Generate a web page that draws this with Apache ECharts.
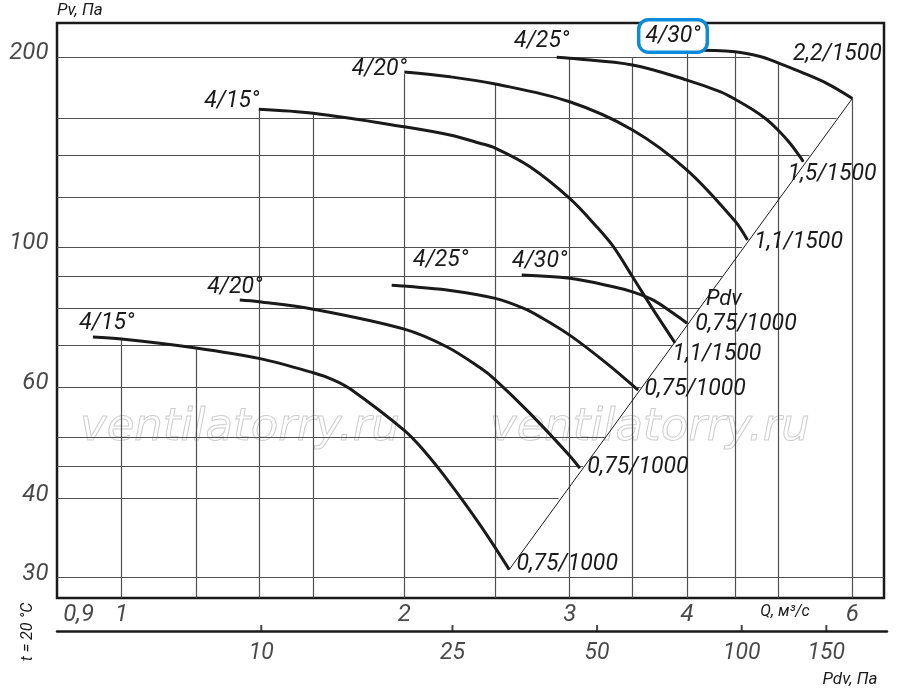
<!DOCTYPE html>
<html>
<head>
<meta charset="utf-8">
<script src="https://cdn.jsdelivr.net/npm/echarts@6/dist/echarts.min.js"></script>
<style>
html,body{margin:0;padding:0;background:#fff;}
#chart{width:900px;height:690px;}
</style>
</head>
<body>
<div id="chart"></div>
<script>
// ---------- axis ranges (log scales) ----------
const qRange = [0.8535, 6.484];     // Q, m3/s
const pvRange = [27.86, 226.4];     // Pv, Pa
const pdvRange = [3.757, 200.6];    // Pdv, Pa (second scale)

// ---------- tick labels ----------
const qTicks = [0.9, 1, 2, 3, 4, 6];
const qTickText = ['0,9', '1', '2', '3', '4', '6'];
const pvTicks = [30, 40, 60, 100, 200];
const pdvTicks = [10, 25, 50, 100, 150];

// ---------- grid lines (clipped by the curve envelope / Pdv line) ----------
const qGrid = [1, 1.2, 1.4, 1.6, 2, 2.5, 3, 3.5, 4, 4.5, 5, 6];
const qGridTop = [71.6, 69.3, 165.3, 162.9, 188, 181.3, 200, 200, 205, 204, 195.8, 172];
const pvGrid = [30, 40, 45, 50, 60, 70, 80, 90, 100, 120, 140, 160, 200];
const pvGridEnd = [6.484, 2.92, 3.10, 3.27, 3.57, 3.86, 4.12, 4.36, 4.58, 5.02, 5.40, 5.77, 4.67];

// ---------- curves ----------
const curveNames = ['4/15°', '4/20°', '4/25°', '4/30°', '4/15°', '4/20°', '4/25°', '4/30°'];
const curveMotors = ['0,75/1000', '0,75/1000', '0,75/1000', '0,75/1000', '1,1/1500', '1,1/1500', '1,5/1500', '2,2/1500'];

const q15_1000 = [0.932, 1.0, 1.2, 1.4, 1.6, 1.68, 1.751, 2.0, 2.1, 2.219, 2.407, 2.587];
const pv15_1000 = [72.1, 71.6, 69.3, 66.7, 63.3, 61.7, 59.7, 51.3, 47.6, 43.0, 36.4, 30.9];

const q20_1000 = [1.336, 1.4, 1.6, 2.0, 2.219, 2.407, 2.5, 2.722, 3.0, 3.076];
const pv20_1000 = [82.5, 82.0, 79.8, 74.2, 69.6, 64.5, 61.7, 54.6, 46.8, 44.7];

const q25_1000 = [1.939, 2.0, 2.22, 2.5, 2.677, 2.79, 3.0, 3.285, 3.549];
const pv25_1000 = [87.1, 86.8, 85.6, 83.0, 80.1, 77.6, 72.6, 65.5, 59.4];

const q30_1000 = [2.667, 3.0, 3.338, 3.5, 3.683, 3.868, 4.0];
const pv30_1000 = [90.4, 89.3, 86.6, 85.0, 82.5, 78.6, 75.8];

const q15_1500 = [1.4, 1.6, 2.0, 2.237, 2.407, 2.5, 2.722, 3.0, 3.205, 3.338, 3.5, 3.683, 3.884];
const pv15_1500 = [165.3, 162.9, 155.1, 150.5, 146.1, 143.5, 134.1, 119.5, 107.8, 100.3, 89.8, 79.6, 70.6];

const q20_1500 = [2.0, 2.237, 2.5, 3.0, 3.5, 4.0, 4.5, 4.64];
const pv20_1500 = [189.4, 186.1, 181.3, 169.9, 153.3, 132.5, 110.0, 102.7];

const q25_1500 = [2.906, 3.0, 3.5, 4.0, 4.337, 4.5, 4.706, 4.863, 5.0, 5.149, 5.277, 5.319];
const pv25_1500 = [199.8, 199.1, 194.3, 183.9, 176.3, 171.5, 164.9, 159.3, 153.3, 146.1, 139.1, 136.6];

const q30_1500 = [4.0, 4.5, 4.785, 5.0, 5.277, 5.634, 6.0];
const pv30_1500 = [205.2, 203.9, 200.4, 195.8, 189.6, 181.7, 172.0];

// dynamic pressure line (Pdv)
const pdvLineQ = [2.587, 6.0];
const pdvLinePv = [30.9, 172.0];

// ---------- build ----------
const curveQ = [q15_1000, q20_1000, q25_1000, q30_1000, q15_1500, q20_1500, q25_1500, q30_1500];
const curvePv = [pv15_1000, pv20_1000, pv25_1000, pv30_1000, pv15_1500, pv20_1500, pv25_1500, pv30_1500];

// label placement (style, pixel offsets from curve start / end)
const startOffsets = [[14,-14],[-5,-13],[49,-25],[18,-14],[-27,-8],[-25,-3],[-15,-16],[-14,-14]];
const endOffsets = [[58,-5],[58,-1],[57,-1],[59,1],[42,11],[51,2],[29,13],[-15,-44]];

const INK = '#1a1a1a';
const FONT = 'Roboto, "Open Sans", "DejaVu Sans", sans-serif';
const baseLabel = {show: true, position: 'inside', color: INK, fontSize: 23, fontStyle: 'italic', fontFamily: FONT};

const series = [];

// grid lines
series.push({
  type: 'lines', coordinateSystem: 'cartesian2d', xAxisIndex: 0, yAxisIndex: 0,
  polyline: false, silent: true, z: 1,
  lineStyle: {color: '#505050', width: 1.2, opacity: 1, curveness: 0},
  data: [].concat(
    qGrid.map((q, i) => ({coords: [[q, pvRange[0]], [q, qGridTop[i]]]})),
    pvGrid.map((p, i) => ({coords: [[qRange[0], p], [pvGridEnd[i], p]]}))
  )
});

// Pdv diagonal
series.push({
  type: 'line', xAxisIndex: 0, yAxisIndex: 0, symbol: 'none', silent: true, z: 2,
  lineStyle: {color: INK, width: 1},
  data: pdvLineQ.map((q, i) => [q, pdvLinePv[i]])
});

// curves
curveQ.forEach((qs, i) => {
  const pvs = curvePv[i];
  const n = qs.length - 1;
  const startLabel = Object.assign({}, baseLabel, {formatter: curveNames[i], offset: startOffsets[i]});
  if (i === 7) {
    Object.assign(startLabel, {borderColor: '#0b8bd9', borderWidth: 3.5, borderRadius: 8,
      padding: [3, 5, 3, 5], backgroundColor: '#fff'});
  }
  series.push({
    type: 'line', xAxisIndex: 0, yAxisIndex: 0, smooth: 0.35, symbol: 'none', z: 3,
    lineStyle: {color: INK, width: 3},
    data: qs.map((q, j) => [q, pvs[j]]),
    markPoint: {
      symbol: 'circle', symbolSize: 1, silent: true, animation: false,
      itemStyle: {color: 'rgba(0,0,0,0)'},
      data: [
        {coord: [qs[0], pvs[0]], label: startLabel},
        {coord: [qs[n], pvs[n]], label: Object.assign({}, baseLabel, {formatter: curveMotors[i], offset: endOffsets[i]})}
      ]
    }
  });
});

// Pv tick labels
series.push({
  type: 'scatter', xAxisIndex: 0, yAxisIndex: 0, symbolSize: 1, silent: true, clip: false,
  itemStyle: {color: 'rgba(0,0,0,0)'},
  label: {show: true, position: 'left', distance: 8, offset: [0, -4], color: INK, fontSize: 24,
    fontStyle: 'italic', fontFamily: FONT, formatter: p => String(p.value[1])},
  data: pvTicks.map(v => [qRange[0], v])
});

// Q tick labels
series.push({
  type: 'scatter', xAxisIndex: 0, yAxisIndex: 0, symbolSize: 1, silent: true, clip: false,
  itemStyle: {color: 'rgba(0,0,0,0)'},
  label: {show: true, position: 'bottom', distance: 4, color: INK, fontSize: 24,
    fontStyle: 'italic', fontFamily: FONT, formatter: p => qTickText[p.dataIndex]},
  data: qTicks.map(v => [v, pvRange[0]])
});

// Pdv scale ticks + labels
series.push({
  type: 'scatter', xAxisIndex: 1, yAxisIndex: 1, symbol: 'rect', symbolSize: [2, 6], symbolOffset: [0, -3],
  silent: true, clip: false, itemStyle: {color: INK},
  label: {show: true, position: 'bottom', distance: 11, color: INK, fontSize: 23,
    fontStyle: 'italic', fontFamily: FONT, formatter: p => String(p.value[0])},
  data: pdvTicks.map(v => [v, 0])
});

const txt = (text, x, y, size, align, extra) => Object.assign({
  type: 'text', x: x, y: y, silent: true, z: 10,
  style: {text: text, fill: INK, font: 'italic ' + size + 'px ' + FONT,
    align: align, textAlign: align, verticalAlign: 'middle', textVerticalAlign: 'middle'}
}, extra || {});

const wm = (x) => ({type: 'text', x: x, y: 428, silent: true, z: 0,
  style: {text: 'ventilatorry.ru', fill: 'rgba(255,255,255,0)', stroke: '#cdcdcd', lineWidth: 1,
    font: 'italic 200 45px "DejaVu Sans", sans-serif', verticalAlign: 'middle', textVerticalAlign: 'middle'}});

const option = {
  animation: false,
  backgroundColor: '#fff',
  grid: [
    {left: 57, right: 16, top: 23, bottom: 92, show: true, borderColor: INK, borderWidth: 2.5, backgroundColor: 'transparent'},
    {left: 57, right: 13, top: 626, height: 5, show: false}
  ],
  xAxis: [
    {type: 'log', logBase: 10, gridIndex: 0, min: qRange[0], max: qRange[1],
      axisLine: {show: false}, axisTick: {show: false}, axisLabel: {show: false}, splitLine: {show: false}},
    {type: 'log', logBase: 10, gridIndex: 1, min: pdvRange[0], max: pdvRange[1], position: 'bottom',
      axisLine: {show: true, onZero: false, lineStyle: {color: INK, width: 2.5}},
      axisTick: {show: false}, axisLabel: {show: false}, splitLine: {show: false}}
  ],
  yAxis: [
    {type: 'log', logBase: 10, gridIndex: 0, min: pvRange[0], max: pvRange[1],
      axisLine: {show: false}, axisTick: {show: false}, axisLabel: {show: false}, splitLine: {show: false}},
    {type: 'value', gridIndex: 1, min: 0, max: 1, show: false}
  ],
  graphic: [
    wm(80),
    wm(490),
    txt('Pv, Па', 57, 11, 17, 'left'),
    txt('Q, м³/с', 785, 612, 16, 'center'),
    txt('Pdv, Па', 850, 680, 17, 'center'),
    txt('Pdv', 706, 299, 22, 'left'),
    txt('t = 20 °C', 28, 632, 16, 'center', {rotation: Math.PI / 2})
  ],
  series: series
};

const chart = echarts.init(document.getElementById('chart'), null, {renderer: 'canvas'});
chart.setOption(option);
</script>
</body>
</html>
